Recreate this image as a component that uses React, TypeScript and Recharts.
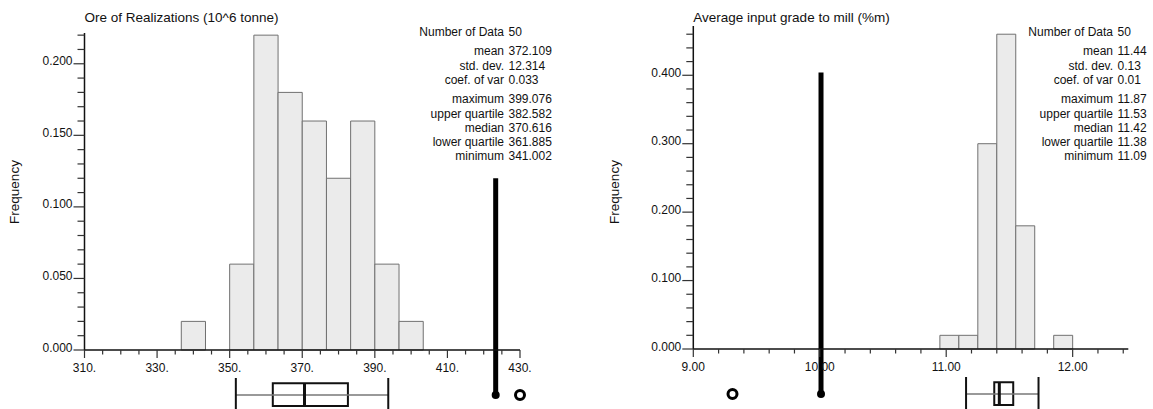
import {
  ComposedChart,
  ReferenceArea,
  ReferenceDot,
  ReferenceLine,
  Scatter,
  XAxis,
  YAxis,
} from "recharts"

const FONT = '"Liberation Sans", Arial, sans-serif'

// ---- Ore of Realizations ----
const oreBinStart = [336.67, 343.33, 350, 356.67, 363.33, 370, 376.67, 383.33, 390, 396.67]
const oreFreq = [0.02, 0, 0.06, 0.22, 0.18, 0.16, 0.12, 0.16, 0.06, 0.02]
const oreBinWidth = 6.667
const oreXMajor = [310, 330, 350, 370, 390, 410, 430]
const oreYMajor = [0, 0.05, 0.1, 0.15, 0.2]
const oreBox = { low: 351.7, q1: 361.885, median: 370.616, q3: 382.582, high: 393.7 }
const oreMarker = { value: 423.3, top: 0.12 }
const oreOpen = 430
const statLabels = [
  "Number of Data", "mean", "std. dev.", "coef. of var",
  "maximum", "upper quartile", "median", "lower quartile", "minimum",
]
const oreStatValues = ["50", "372.109", "12.314", "0.033", "399.076", "382.582", "370.616", "361.885", "341.002"]

// ---- Average input grade ----
const gradeBinStart = [10.95, 11.1, 11.25, 11.4, 11.55, 11.7, 11.85]
const gradeFreq = [0.02, 0.02, 0.3, 0.46, 0.18, 0, 0.02]
const gradeBinWidth = 0.15
const gradeXMajor = [9, 10, 11, 12]
const gradeYMajor = [0, 0.1, 0.2, 0.3, 0.4]
const gradeBox = { low: 11.157, q1: 11.38, median: 11.42, q3: 11.53, high: 11.73 }
const gradeMarker = { value: 10.01, top: 0.404 }
const gradeOpen = 9.31
const gradeStatValues = ["50", "11.44", "0.13", "0.01", "11.87", "11.53", "11.42", "11.38", "11.09"]

// vertical centre of each stats row (px)
const statRowY = [32, 51, 65.5, 80, 99, 113.5, 127.5, 141.5, 155.5]

function stepTicks(start: number, end: number, step: number) {
  const out: number[] = []
  for (let v = start; v <= end + step / 1000; v += step) {
    out.push(Math.round(v * 10000) / 10000)
  }
  return out
}

const isIn = (list: number[], v: number) => list.some((m) => Math.abs(m - v) < 1e-9)

function YTick(props: any) {
  const { x, y, payload, majors, digits } = props
  const v = payload.value
  const major = isIn(majors, v)
  return (
    <g>
      <line x1={x - (major ? 11 : 7)} x2={x} y1={y} y2={y} stroke="#333" strokeWidth={1.2} />
      {major && (
        <text x={x - 12} y={y + 1.5} textAnchor="end" fontSize={12} fill="#111" fontFamily={FONT}>
          {v.toFixed(digits)}
        </text>
      )}
    </g>
  )
}

function XTick(props: any) {
  const { x, y, payload, majors, format } = props
  const v = payload.value
  const major = isIn(majors, v)
  return (
    <g>
      <line x1={x} x2={x} y1={y} y2={y + (major ? 8 : 4.5)} stroke="#333" strokeWidth={1.2} />
      {major && (
        <text x={x} y={y + 21.5} textAnchor="middle" fontSize={12} fill="#111" fontFamily={FONT}>
          {format(v)}
        </text>
      )}
    </g>
  )
}

type PanelProps = {
  left: number
  width: number
  margin: { top: number; right: number; bottom: number; left: number }
  xDomain: [number, number]
  yMax: number
  xTicks: number[]
  xMajor: number[]
  yTicks: number[]
  yMajor: number[]
  yDigits: number
  xFormat: (v: number) => string
  binStart: number[]
  freq: number[]
  binWidth: number
  box: { low: number; q1: number; median: number; q3: number; high: number }
  marker: { value: number; top: number }
  open: number
  title: string
  statValues: string[]
  labelRight: number
  freqX: number
}

const CHART_H = 409
const X_AXIS_H = 30
const Y_AXIS_W = 60

function HistPanel(p: PanelProps) {
  const plotH = CHART_H - p.margin.top - p.margin.bottom - X_AXIS_H
  // pixel offsets below the x axis -> value units on the y scale
  const below = (px: number) => (-px * p.yMax) / plotH
  const dotY = below(45)
  const boxTop = below(33.3)
  const boxBottom = below(56)
  const capTop = below(28)
  const capBottom = below(62)

  const data = p.binStart.map((s, i) => ({ x: s + p.binWidth / 2, f: p.freq[i] }))
  const plotLeft = p.left + p.margin.left + Y_AXIS_W

  return (
    <>
      <div style={{ position: "absolute", left: p.left, top: 0 }}>
        <ComposedChart width={p.width} height={CHART_H} data={data} margin={p.margin}>
          <XAxis
            type="number"
            dataKey="x"
            domain={p.xDomain}
            allowDataOverflow
            ticks={p.xTicks}
            interval={0}
            height={X_AXIS_H}
            tickSize={0}
            tickMargin={0}
            tickLine={false}
            axisLine={{ stroke: "#111", strokeWidth: 1.5 }}
            tick={(t: any) => <XTick {...t} majors={p.xMajor} format={p.xFormat} />}
          />
          <YAxis
            type="number"
            domain={[0, p.yMax]}
            allowDataOverflow
            ticks={p.yTicks}
            interval={0}
            width={Y_AXIS_W}
            tickSize={0}
            tickMargin={0}
            tickLine={false}
            axisLine={{ stroke: "#111", strokeWidth: 1.5 }}
            tick={(t: any) => <YTick {...t} majors={p.yMajor} digits={p.yDigits} />}
          />
          {p.binStart.map((s, i) =>
            p.freq[i] > 0 ? (
              <ReferenceArea
                key={i}
                x1={s}
                x2={s + p.binWidth}
                y1={0}
                y2={p.freq[i]}
                fill="#ebebeb"
                fillOpacity={1}
                stroke="#707070"
                strokeWidth={1}
              />
            ) : null,
          )}
          <Scatter dataKey="f" shape={() => <g />} isAnimationActive={false} />

          {/* box plot under the axis */}
          <ReferenceLine
            segment={[{ x: p.box.low, y: dotY }, { x: p.box.high, y: dotY }]}
            stroke="#777"
            strokeWidth={1.5}
            ifOverflow="visible"
          />
          <ReferenceLine
            segment={[{ x: p.box.low, y: capTop }, { x: p.box.low, y: capBottom }]}
            stroke="#111"
            strokeWidth={2}
            ifOverflow="visible"
          />
          <ReferenceLine
            segment={[{ x: p.box.high, y: capTop }, { x: p.box.high, y: capBottom }]}
            stroke="#111"
            strokeWidth={2}
            ifOverflow="visible"
          />
          <ReferenceArea
            x1={p.box.q1}
            x2={p.box.q3}
            y1={boxBottom}
            y2={boxTop}
            fill="#fff"
            fillOpacity={1}
            stroke="#111"
            strokeWidth={2}
            ifOverflow="visible"
          />
          <ReferenceLine
            segment={[{ x: p.box.median, y: boxTop }, { x: p.box.median, y: boxBottom }]}
            stroke="#111"
            strokeWidth={3}
            ifOverflow="visible"
          />

          {/* reference value */}
          <ReferenceLine
            segment={[{ x: p.marker.value, y: p.marker.top }, { x: p.marker.value, y: dotY }]}
            stroke="#000"
            strokeWidth={5}
            ifOverflow="visible"
          />
          <ReferenceDot x={p.marker.value} y={dotY} r={4} fill="#000" stroke="none" ifOverflow="visible" />
          <ReferenceDot x={p.open} y={dotY} r={4.5} fill="#fff" stroke="#000" strokeWidth={3} ifOverflow="visible" />
        </ComposedChart>
      </div>

      <div
        style={{
          position: "absolute",
          left: plotLeft,
          top: 10,
          fontSize: 13.5,
          lineHeight: "16px",
          whiteSpace: "nowrap",
          color: "#111",
        }}
      >
        {p.title}
      </div>

      <div
        style={{
          position: "absolute",
          left: p.freqX - 40,
          top: 185,
          width: 80,
          textAlign: "center",
          fontSize: 13.5,
          lineHeight: "14px",
          transform: "rotate(-90deg)",
          color: "#111",
        }}
      >
        Frequency
      </div>

      {statLabels.map((label, i) => (
        <div key={label}>
          <div
            style={{
              position: "absolute",
              left: p.labelRight - 150,
              width: 150,
              top: statRowY[i] - 7,
              textAlign: "right",
              fontSize: 12,
              lineHeight: "14px",
              whiteSpace: "nowrap",
              color: "#111",
            }}
          >
            {label}
          </div>
          <div
            style={{
              position: "absolute",
              left: p.labelRight + 4.5,
              top: statRowY[i] - 7,
              fontSize: 12,
              lineHeight: "14px",
              whiteSpace: "nowrap",
              color: "#111",
            }}
          >
            {p.statValues[i]}
          </div>
        </div>
      ))}
    </>
  )
}

export default function App() {
  return (
    <div
      style={{
        position: "absolute",
        left: 0,
        top: 0,
        width: 1153,
        height: 409,
        background: "#fff",
        fontFamily: FONT,
        overflow: "hidden",
      }}
    >
      <HistPanel
        left={0}
        width={576}
        margin={{ top: 33, right: 56, bottom: 409 - 350 - X_AXIS_H, left: 84.5 - Y_AXIS_W }}
        xDomain={[310, 430]}
        yMax={0.2215}
        xTicks={stepTicks(310, 430, 5)}
        xMajor={oreXMajor}
        yTicks={stepTicks(0, 0.22, 0.01)}
        yMajor={oreYMajor}
        yDigits={3}
        xFormat={(v) => `${v}.`}
        binStart={oreBinStart}
        freq={oreFreq}
        binWidth={oreBinWidth}
        box={oreBox}
        marker={oreMarker}
        open={oreOpen}
        title="Ore of Realizations (10^6 tonne)"
        statValues={oreStatValues}
        labelRight={504}
        freqX={15}
      />
      <HistPanel
        left={576}
        width={577}
        margin={{ top: 26, right: 24.7, bottom: 409 - 349 - X_AXIS_H, left: 117.3 - Y_AXIS_W }}
        xDomain={[9, 12.44]}
        yMax={0.472}
        xTicks={stepTicks(9, 12.4, 0.2)}
        xMajor={gradeXMajor}
        yTicks={stepTicks(0, 0.46, 0.02)}
        yMajor={gradeYMajor}
        yDigits={3}
        xFormat={(v) => v.toFixed(2)}
        binStart={gradeBinStart}
        freq={gradeFreq}
        binWidth={gradeBinWidth}
        box={gradeBox}
        marker={gradeMarker}
        open={gradeOpen}
        title="Average input grade to mill (%m)"
        statValues={gradeStatValues}
        labelRight={1113}
        freqX={615}
      />
    </div>
  )
}
